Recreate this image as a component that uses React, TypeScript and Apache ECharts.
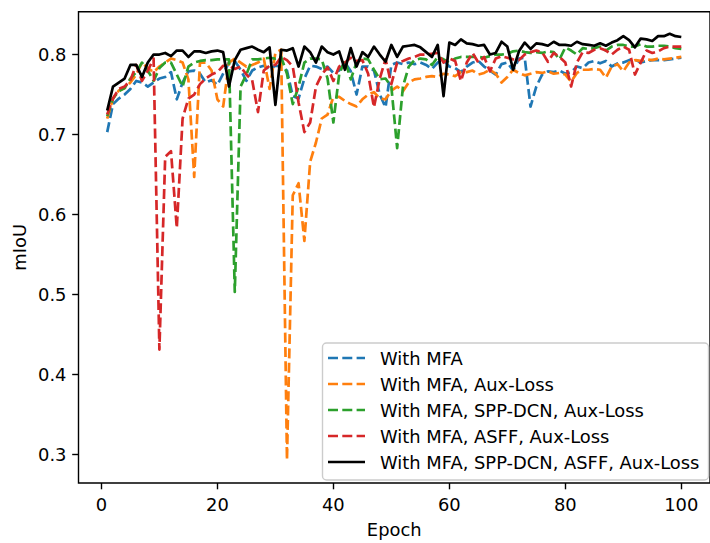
import React, { useEffect, useRef } from "react";
import * as echarts from "echarts";

const epochs: number[] = Array.from({ length: 100 }, (_, i) => i + 1);

const withMFA = [
  0.703, 0.738, 0.745, 0.75, 0.757, 0.767, 0.765, 0.76, 0.765, 0.77,
  0.772, 0.778, 0.744, 0.765, 0.779, 0.78, 0.776, 0.765, 0.768, 0.762,
  0.776, 0.79, 0.792, 0.781, 0.767, 0.78, 0.784, 0.786, 0.782, 0.786,
  0.785, 0.78, 0.748, 0.745, 0.77, 0.786, 0.785, 0.782, 0.785, 0.777,
  0.78, 0.79, 0.779, 0.75, 0.785, 0.785, 0.78, 0.75, 0.734, 0.787,
  0.79, 0.788, 0.79, 0.788, 0.79, 0.787, 0.782, 0.79, 0.793, 0.785,
  0.783, 0.778, 0.785, 0.79, 0.792, 0.785, 0.78, 0.775, 0.788, 0.79,
  0.78, 0.795, 0.796, 0.735, 0.76, 0.775, 0.779, 0.778, 0.78, 0.776,
  0.778, 0.785, 0.783, 0.79, 0.792, 0.789, 0.792, 0.785, 0.789, 0.79,
  0.793, 0.794, 0.79, 0.792, 0.793, 0.793, 0.793, 0.794, 0.795, 0.796,
];

const withMFAAux = [
  0.72, 0.745, 0.755, 0.758, 0.765, 0.775, 0.79, 0.783, 0.778, 0.785,
  0.79, 0.795, 0.793, 0.79, 0.769, 0.647, 0.79, 0.79, 0.78, 0.744,
  0.735, 0.79, 0.795, 0.79, 0.785, 0.787, 0.79, 0.795, 0.757, 0.802,
  0.806, 0.293, 0.624, 0.639, 0.567, 0.666, 0.69, 0.72, 0.725, 0.747,
  0.747, 0.742, 0.738, 0.735, 0.744, 0.75, 0.753, 0.745, 0.744, 0.755,
  0.76, 0.754, 0.765, 0.769, 0.77, 0.772, 0.773, 0.772, 0.776, 0.775,
  0.773, 0.778, 0.778, 0.78, 0.775, 0.777, 0.781, 0.776, 0.765, 0.772,
  0.781, 0.777, 0.774, 0.776, 0.778, 0.777, 0.779, 0.776, 0.777, 0.775,
  0.766, 0.777, 0.781, 0.781, 0.782, 0.781, 0.771, 0.785, 0.788, 0.779,
  0.79, 0.793, 0.792, 0.794, 0.793, 0.795, 0.794, 0.795, 0.796, 0.797,
];

const withMFASppAux = [
  0.723, 0.745, 0.754, 0.758, 0.77, 0.778, 0.79, 0.78, 0.767, 0.783,
  0.79, 0.79, 0.775, 0.76, 0.785, 0.79, 0.792, 0.793, 0.793, 0.794,
  0.794, 0.794, 0.503, 0.76, 0.775, 0.794, 0.794, 0.795, 0.796, 0.795,
  0.797, 0.776, 0.738, 0.76, 0.79, 0.795, 0.795, 0.794, 0.77, 0.715,
  0.775, 0.793, 0.769, 0.79, 0.795, 0.794, 0.781, 0.769, 0.77, 0.76,
  0.683, 0.76, 0.785, 0.793, 0.795, 0.794, 0.787, 0.797, 0.794, 0.79,
  0.795, 0.797, 0.797, 0.797, 0.797, 0.796, 0.798, 0.8, 0.8, 0.801,
  0.804, 0.805, 0.803, 0.802, 0.803, 0.802, 0.804, 0.803, 0.794, 0.809,
  0.805, 0.8, 0.808, 0.807, 0.808, 0.81, 0.805, 0.81, 0.812, 0.812,
  0.81, 0.81, 0.813, 0.81, 0.81, 0.811, 0.811, 0.81, 0.808, 0.807,
];

const withMFAAsffAux = [
  0.725, 0.745, 0.757, 0.76, 0.768, 0.787, 0.767, 0.78, 0.795, 0.431,
  0.672, 0.679, 0.583, 0.72, 0.745, 0.75, 0.763, 0.77, 0.775, 0.778,
  0.786, 0.786, 0.782, 0.785, 0.775, 0.768, 0.728, 0.78, 0.786, 0.787,
  0.797, 0.793, 0.785, 0.74, 0.703, 0.715, 0.76, 0.775, 0.784, 0.767,
  0.785, 0.79, 0.796, 0.792, 0.793, 0.776, 0.734, 0.77, 0.794, 0.763,
  0.79, 0.792, 0.795, 0.797, 0.8, 0.8, 0.801, 0.802, 0.79, 0.795,
  0.792, 0.767, 0.79, 0.802, 0.79, 0.797, 0.779, 0.795, 0.798, 0.796,
  0.794, 0.793, 0.8, 0.803, 0.805, 0.803, 0.791, 0.802, 0.797, 0.79,
  0.76, 0.79, 0.803, 0.802, 0.806, 0.808, 0.805, 0.8, 0.806, 0.81,
  0.806, 0.775, 0.79, 0.805, 0.802, 0.804, 0.808, 0.81, 0.81, 0.81,
];

const withAll = [
  0.73, 0.76, 0.765, 0.77, 0.787, 0.787, 0.772, 0.79, 0.8, 0.8,
  0.802, 0.798, 0.805, 0.805, 0.797, 0.804, 0.804, 0.802, 0.804, 0.805,
  0.803, 0.76, 0.793, 0.806, 0.808, 0.81, 0.806, 0.803, 0.809, 0.737,
  0.806, 0.805, 0.808, 0.785, 0.81, 0.803, 0.79, 0.81, 0.803, 0.8,
  0.804, 0.781, 0.808, 0.785, 0.803, 0.797, 0.81, 0.8, 0.791, 0.812,
  0.797, 0.81, 0.811, 0.812, 0.809, 0.803, 0.797, 0.812, 0.748, 0.815,
  0.812, 0.819, 0.814, 0.813, 0.811, 0.812, 0.8, 0.802, 0.816, 0.81,
  0.781, 0.804, 0.815, 0.807, 0.814, 0.813, 0.811, 0.816, 0.812, 0.812,
  0.811, 0.816, 0.813, 0.812, 0.811, 0.814, 0.811, 0.815, 0.818, 0.823,
  0.818, 0.809, 0.82, 0.819, 0.817, 0.823, 0.823, 0.826, 0.823, 0.822,
];

const seriesNames = [
  "With MFA",
  "With MFA, Aux-Loss",
  "With MFA, SPP-DCN, Aux-Loss",
  "With MFA, ASFF, Aux-Loss",
  "With MFA, SPP-DCN, ASFF, Aux-Loss",
];
const seriesValues = [withMFA, withMFAAux, withMFASppAux, withMFAAsffAux, withAll];
const seriesColors = ["#1f77b4", "#ff7f0e", "#2ca02c", "#d62728", "#000000"];
const seriesDashed = [true, true, true, true, false];

const xTicks = [0, 20, 40, 60, 80, 100];
const yTicks = [0.3, 0.4, 0.5, 0.6, 0.7, 0.8];

const FONT = "DejaVu Sans";
const FS = 17.9;
const DASH = [10, 4.3];
const LW = 2.7;

export default function App() {
  const ref = useRef<HTMLDivElement>(null);
  useEffect(() => {
    document.body.style.margin = "0";
    if (!ref.current) return;
    const chart = echarts.init(ref.current, null, { renderer: "svg" });

    const legendX = 322.5;
    const legendY = 343;
    const rowY = [358, 384, 410, 436, 462];
    const legendGraphics: any[] = [
      {
        type: "rect",
        shape: { x: legendX, y: legendY, width: 386, height: 137, r: 4 },
        style: { fill: "rgba(255,255,255,0.8)", stroke: "#cccccc", lineWidth: 1.4 },
        z: 100,
      },
    ];
    seriesNames.forEach((name, i) => {
      legendGraphics.push({
        type: "line",
        shape: { x1: 328, y1: rowY[i], x2: 365, y2: rowY[i] },
        style: {
          stroke: seriesColors[i],
          lineWidth: LW,
          lineDash: seriesDashed[i] ? DASH : null,
          lineCap: "butt",
        },
        z: 101,
      });
      legendGraphics.push({
        type: "text",
        x: 380,
        y: rowY[i],
        style: {
          text: name,
          fill: "#000",
          font: `${FS}px "${FONT}"`,
          verticalAlign: "middle",
          align: "left",
        },
        z: 101,
      });
    });

    chart.setOption({
      animation: false,
      backgroundColor: "#ffffff",
      grid: {
        left: 78.5,
        top: 11.7,
        width: 638.5,
        height: 476.3,
        show: true,
        borderColor: "#000",
        borderWidth: 1.4,
        backgroundColor: "transparent",
      },
      xAxis: {
        type: "value",
        min: -3.95,
        max: 104.95,
        name: "Epoch",
        nameLocation: "middle",
        nameGap: 37,
        nameMoveOverlap: false,
        nameTextStyle: { fontFamily: FONT, fontSize: FS, color: "#000" },
        axisLine: { show: false, onZero: false },
        splitLine: { show: false },
        axisTick: {
          show: true,
          length: 6.3,
          inside: false,
          customValues: xTicks,
          lineStyle: { color: "#000", width: 1.4 },
        },
        axisLabel: {
          customValues: xTicks,
          margin: 12,
          fontFamily: FONT,
          fontSize: FS,
          color: "#000",
          formatter: (v: number) => String(v),
        },
      },
      yAxis: {
        type: "value",
        min: 0.2641,
        max: 0.8536,
        name: "mIoU",
        nameLocation: "middle",
        nameGap: 50,
        nameMoveOverlap: false,
        nameTextStyle: { fontFamily: FONT, fontSize: FS, color: "#000" },
        axisLine: { show: false, onZero: false },
        splitLine: { show: false },
        axisTick: {
          show: true,
          length: 6.3,
          inside: false,
          customValues: yTicks,
          lineStyle: { color: "#000", width: 1.4 },
        },
        axisLabel: {
          customValues: yTicks,
          margin: 12,
          fontFamily: FONT,
          fontSize: FS,
          color: "#000",
          formatter: (v: number) => v.toFixed(1),
        },
      },
      series: seriesNames.map((name, i) => ({
        name,
        type: "line",
        data: epochs.map((e, j) => [e, seriesValues[i][j]]),
        showSymbol: false,
        symbol: "none",
        clip: true,
        lineStyle: {
          color: seriesColors[i],
          width: LW,
          type: seriesDashed[i] ? DASH : "solid",
          cap: "butt",
          join: "round",
        },
        itemStyle: { color: seriesColors[i] },
        emphasis: { disabled: true },
        z: 2 + i,
      })),
      graphic: legendGraphics,
    });
    return () => chart.dispose();
  }, []);
  return <div ref={ref} style={{ width: 710, height: 543 }} />;
}
